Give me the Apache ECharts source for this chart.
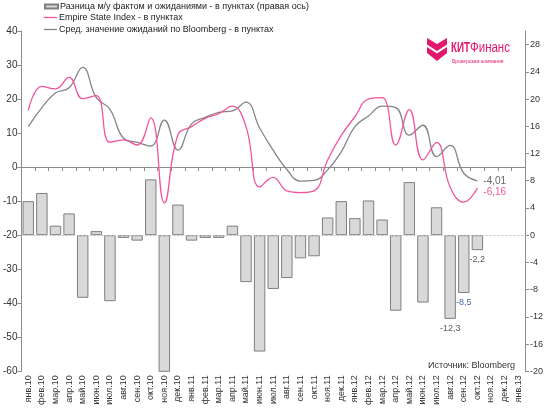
<!DOCTYPE html>
<html>
<head>
<meta charset="utf-8">
<script src="https://cdn.jsdelivr.net/npm/echarts@6/dist/echarts.min.js"></script>
<style>html,body{margin:0;padding:0;background:#fff}#c{width:550px;height:408px}</style>
</head>
<body>
<div id="c"></div>
<script>
const categories = ['янв.10','фев.10','мар.10','апр.10','май.10','июн.10','июл.10','авг.10','сен.10','окт.10','ноя.10','дек.10',
  'янв.11','фев.11','мар.11','апр.11','май.11','июн.11','июл.11','авг.11','сен.11','окт.11','ноя.11','дек.11',
  'янв.12','фев.12','мар.12','апр.12','май.12','июн.12','июл.12','авг.12','сен.12','окт.12','ноя.12','дек.12','янв.13'];
const surpriseValues = [5.0, 6.2, 1.4, 3.2, -9.2, 0.6, -9.7, -0.4, -0.8, 8.2, -24.3, 4.5,
  -0.8, -0.4, -0.4, 1.4, -6.9, -17.1, -7.9, -6.3, -3.4, -3.1, 2.6, 5.0,
  2.5, 5.1, 2.3, -11.1, 7.8, -9.9, 4.1, -12.3, -8.5, -2.2];
const surpriseLabels = [null,null,null,null,null,null,null,null,null,null,null,null,
  null,null,null,null,null,null,null,null,null,null,null,null,
  null,null,null,null,null,null,null,'-12,3','-8,5','-2,2'];
const empireValues = [16.7, 23.7, 23.0, 26.4, 20.1, 21.0, 7.3, 8.0, 6.5, 14.5, -10.5, 9.5,
  11.9, 14.3, 15.7, 17.9, 11.9, -5.8, -3.0, -7.0, -7.5, -7.0, 2.1, 9.3,
  14.8, 20.0, 20.4, 6.5, 16.9, 2.1, 7.2, -5.9, -10.3, -6.16];
const consensusValues = [11.9, 17.5, 21.8, 23.3, 29.3, 20.4, 17.0, 8.5, 7.3, 6.2, 13.8, 5.0,
  12.7, 14.6, 16.1, 16.5, 19.1, 11.5, 4.9, -0.7, -4.1, -3.9, -0.8, 4.5,
  11.9, 15.0, 17.9, 17.5, 9.4, 12.3, 3.1, 6.4, -1.8, -4.01];
const empireEndLabel = '-6,16';
const consensusEndLabel = '-4,01';
const seriesNames = ['Разница м/у фактом и ожиданиями - в пунктах (правая ось)',
  'Empire State Index - в пунктах',
  'Сред. значение ожиданий по Bloomberg - в пунктах'];
const sourceText = 'Источник: Bloomberg';

const FONT = 'Liberation Sans, Arial, sans-serif';
const PINK = '#f0559e';
const GRAYLINE = '#858585';
const AXIS = '#8c8c8c';
const labelColors = ['#5a5a5a', '#4a6aa8', '#5a5a5a'];

let li = 0;
const barData = surpriseValues.map((v, i) => {
  if (surpriseLabels[i]) {
    const c = labelColors[li++ % labelColors.length];
    return {value: v, label: {show: true, position: 'bottom', distance: 5, formatter: surpriseLabels[i], color: c, fontSize: 9, fontFamily: FONT}};
  }
  return v;
});

const legendText = {fontSize: 9, color: '#222', fontFamily: FONT, lineHeight: 11, padding: [0,0,0,-3]};

const chart = echarts.init(document.getElementById('c'), null, {renderer: 'canvas'});
chart.setOption({
  animation: false,
  backgroundColor: '#fff',
  textStyle: {fontFamily: FONT},
  grid: {left: 21, right: 25, top: 31, bottom: 35},
  legend: [
    {orient: 'vertical', left: 44, top: 1, padding: 0, itemGap: 1,
      itemWidth: 13, itemHeight: 4, textStyle: legendText,
      data: [{name: seriesNames[0], icon: 'rect'}]},
    {orient: 'vertical', left: 44, top: 12, padding: 0, itemGap: 1,
      itemWidth: 13, itemHeight: 1.3, textStyle: legendText,
      data: [{name: seriesNames[1], icon: 'rect'}, {name: seriesNames[2], icon: 'rect'}]}
  ],
  xAxis: [
    {type: 'category', data: categories, position: 'bottom', boundaryGap: true,
      axisLine: {show: false}, axisTick: {show: false},
      axisLabel: {rotate: 90, interval: 0, fontSize: 9, color: '#333', margin: 4, fontFamily: FONT}},
    {type: 'category', data: categories, position: 'top', boundaryGap: true,
      axisLine: {show: true, onZero: true, onZeroAxisIndex: 0, lineStyle: {color: AXIS, width: 1}},
      axisTick: {show: true, inside: true, interval: 0, length: 4, lineStyle: {color: AXIS}},
      axisLabel: {show: false}}
  ],
  yAxis: [
    {type: 'value', min: -60, max: 40, interval: 10, position: 'left',
      axisLine: {show: true, lineStyle: {color: AXIS}},
      axisTick: {show: true, length: 4, lineStyle: {color: AXIS}},
      splitLine: {show: false},
      axisLabel: {fontSize: 10, color: '#333', margin: 4, fontFamily: FONT}},
    {type: 'value', min: -20, max: 30, interval: 4, position: 'right',
      axisLine: {show: true, lineStyle: {color: AXIS}},
      axisTick: {show: true, length: 4, lineStyle: {color: AXIS}},
      splitLine: {show: false},
      axisLabel: {fontSize: 9, color: '#333', margin: 5, fontFamily: FONT, showMaxLabel: false}}
  ],
  series: [
    {name: seriesNames[0], type: 'bar', xAxisIndex: 0, yAxisIndex: 1, data: barData,
      barCategoryGap: '16%', clip: true,
      itemStyle: {color: '#d9d9d9', borderColor: '#7f7f7f', borderWidth: 1},
      markLine: {silent: true, symbol: ['none', 'none'], label: {show: false},
        lineStyle: {type: [2, 2], color: '#c4c4c4', width: 1}, data: [{yAxis: 0}]},
      z: 2},
    {name: seriesNames[1], type: 'line', xAxisIndex: 0, yAxisIndex: 0, data: empireValues,
      smooth: 0.45, symbol: 'none', lineStyle: {color: PINK, width: 1.3}, itemStyle: {color: PINK},
      endLabel: {show: true, formatter: empireEndLabel, color: PINK, fontSize: 10, distance: 6, offset: [0, 4], fontFamily: FONT},
      z: 4},
    {name: seriesNames[2], type: 'line', xAxisIndex: 0, yAxisIndex: 0, data: consensusValues,
      smooth: 0.45, symbol: 'none', lineStyle: {color: GRAYLINE, width: 1.3}, itemStyle: {color: GRAYLINE},
      endLabel: {show: true, formatter: consensusEndLabel, color: '#666', fontSize: 10, distance: 6, fontFamily: FONT},
      z: 3}
  ],
  graphic: [
    {type: 'text', x: 515, y: 366,
      style: {text: sourceText, fill: '#333', font: '9px ' + FONT, align: 'right', verticalAlign: 'middle'}},
    {type: 'polygon', shape: {points: [[427,38],[437,44],[447,38],[447,44.5],[437,51],[427,44.5]]}, style: {fill: '#e2166d'}},
    {type: 'polygon', shape: {points: [[427,47],[437,53.5],[447,47],[447,53],[437,61],[427,53]]}, style: {fill: '#e2166d'}},
    {type: 'text', x: 451, y: 48, scaleX: 0.7, originX: 0, originY: 0,
      style: {text: 'КИТ', fill: '#e2166d', font: 'bold 14px ' + FONT, align: 'left', verticalAlign: 'middle'}},
    {type: 'text', x: 470, y: 48, scaleX: 0.82, originX: 0, originY: 0,
      style: {text: 'Финанс', fill: '#e2166d', font: '14px ' + FONT, align: 'left', verticalAlign: 'middle'}},
    {type: 'text', x: 452, y: 61.5, scaleX: 0.85,
      style: {text: 'Брокерская компания', fill: '#e2166d', font: '6px ' + FONT, align: 'left', verticalAlign: 'middle'}}
  ]
});
</script>
</body>
</html>
